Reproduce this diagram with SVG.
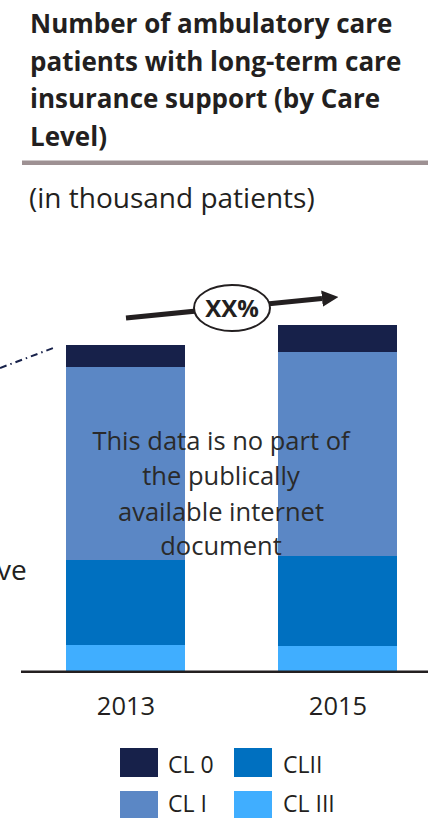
<svg xmlns="http://www.w3.org/2000/svg" width="428" height="818" viewBox="0 0 428 818">
  <style>
    text { font-family: "Open Sans", "Noto Sans", "Liberation Sans", sans-serif; fill: #231f20; }
    .title { font-size: 26px; font-weight: bold; }
    .sub { font-size: 28px; }
    .wm { font-size: 25.5px; text-anchor: middle; fill: #2a2a2a; }
    .year { font-size: 25.5px; text-anchor: middle; }
    .leg { font-size: 23px; }
    .cl0 { fill: #17214a; }
    .cl1 { fill: #5b87c5; }
    .cl2 { fill: #0070c0; }
    .cl3 { fill: #40aeff; }
  </style>
  <defs>
    <marker id="arrowHead" viewBox="0 0 10 10" refX="0" refY="5" markerWidth="3.3" markerHeight="3.3" orient="auto" markerUnits="strokeWidth">
      <path d="M0,0 L10,5 L0,10 Z" fill="#231f20"/>
    </marker>
  </defs>

  <rect width="428" height="818" fill="#ffffff"/>

  <!-- Heading -->
  <g id="heading">
    <text class="title" x="30" y="33">Number of ambulatory care</text>
    <text class="title" x="30" y="70.5">patients with long-term care</text>
    <text class="title" x="30" y="108">insurance support (by Care</text>
    <text class="title" x="30" y="145.5">Level)</text>
    <rect x="22" y="160.5" width="406" height="4.5" fill="#9e9193"/>
    <text class="sub" x="29" y="208">(in thousand patients)</text>
  </g>

  <!-- Partial label cut at left edge -->
  <text class="sub" x="-3" y="580">ve</text>

  <!-- Bar 2013 -->
  <g id="bar-2013">
    <rect class="cl0" x="66" y="345" width="119" height="22"/>
    <rect class="cl1" x="66" y="367" width="119" height="193"/>
    <rect class="cl2" x="66" y="560" width="119" height="85"/>
    <rect class="cl3" x="66" y="645" width="119" height="26"/>
  </g>

  <!-- Bar 2015 -->
  <g id="bar-2015">
    <rect class="cl0" x="278" y="325" width="119" height="27"/>
    <rect class="cl1" x="278" y="352" width="119" height="204"/>
    <rect class="cl2" x="278" y="556" width="119" height="90"/>
    <rect class="cl3" x="278" y="646" width="119" height="25"/>
  </g>

  <!-- Axis -->
  <rect x="21" y="670.5" width="407" height="2.5" fill="#231f20"/>

  <!-- Connectors -->
  <g id="connectors">
    <line x1="0" y1="368" x2="56" y2="347" stroke="#17214a" stroke-width="2" stroke-dasharray="7,4,1.5,4"/>
    <line x1="126" y1="318" x2="322" y2="298.6" stroke="#231f20" stroke-width="5" marker-end="url(#arrowHead)"/>
  </g>

  <!-- Growth badge -->
  <g id="growth">
    <ellipse cx="232" cy="308" rx="38" ry="23" fill="#ffffff" stroke="#231f20" stroke-width="2"/>
    <text x="232" y="316.5" text-anchor="middle" font-size="24" font-weight="bold" font-family="Liberation Sans, Arial, sans-serif">XX%</text>
  </g>

  <!-- Notice -->
  <g id="notice">
    <text class="wm" x="221" y="450">This data is no part of</text>
    <text class="wm" x="221" y="485">the publically</text>
    <text class="wm" x="221" y="521">available internet</text>
    <text class="wm" x="221" y="555">document</text>
  </g>

  <!-- Years -->
  <text class="year" x="126" y="715">2013</text>
  <text class="year" x="338" y="715">2015</text>

  <!-- Legend -->
  <g id="legend">
    <rect class="cl0" x="120" y="748" width="38" height="29"/>
    <text class="leg" x="168" y="773">CL 0</text>
    <rect class="cl2" x="234" y="748" width="38" height="29"/>
    <text class="leg" x="283" y="773">CLII</text>
    <rect class="cl1" x="120" y="791" width="38" height="27"/>
    <text class="leg" x="168" y="812">CL I</text>
    <rect class="cl3" x="234" y="791" width="38" height="27"/>
    <text class="leg" x="283" y="812">CL III</text>
  </g>
</svg>
